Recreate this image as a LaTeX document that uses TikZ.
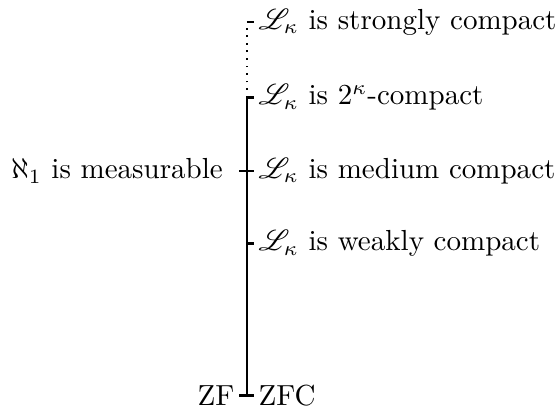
\documentclass[tikz,border=0pt]{standalone}
\usepackage{amsmath,amssymb,amsfonts}
\usepackage{mathrsfs}
\usetikzlibrary{positioning}

\begin{document}
\begin{tikzpicture}[>=latex,x=1cm,y=1cm,
    lbl/.style={inner sep=1pt}]
          \useasboundingbox (0,0) rectangle (6.77,5.02);
          % the levels on the spine
          \coordinate (zfc) at (2.99,0.23);
          \coordinate (wc) at (2.99,2.07);
          \coordinate (mc) at (2.99,2.95);
          \coordinate (tc) at (2.99,3.84);
          \coordinate (sc) at (2.99,4.75);
          \draw[thick] (zfc) -- (tc);
          \draw[dotted,semithick] (tc) -- (sc);
          % ticks
          \draw[thick] ([xshift=-0.09cm]zfc) -- ([xshift=0.09cm]zfc);
          \draw[thick] (wc) -- ([xshift=0.09cm]wc);
          \draw[thick] ([xshift=-0.09cm]mc) -- ([xshift=0.09cm]mc);
          \draw[thick] (tc) -- ([xshift=0.09cm]tc);
          \draw[thick] (sc) -- ([xshift=0.09cm]sc);
          % labels
          \node[lbl,right] (nzfc) at ([xshift=0.1cm]zfc) {ZFC};
          \node[lbl,left] (nzf) at ([xshift=-0.11cm]zfc) {ZF};
          \node[lbl,right] (nwc) at ([xshift=0.1cm]wc) {$\mathscr{L}_\kappa$ is weakly compact};
          \node[lbl,right] (nmc) at ([xshift=0.1cm]mc) {$\mathscr{L}_\kappa$ is medium compact};
          \node[lbl,left] (nms) at ([xshift=-0.25cm]mc) {$\aleph_1$ is measurable};
          \node[lbl,right] (ntc) at ([xshift=0.1cm]tc) {$\mathscr{L}_\kappa$ is $2^\kappa$-compact};
          \node[lbl,right] (nsc) at ([xshift=0.1cm]sc) {$\mathscr{L}_\kappa$ is strongly compact};
        \end{tikzpicture}
\end{document}
